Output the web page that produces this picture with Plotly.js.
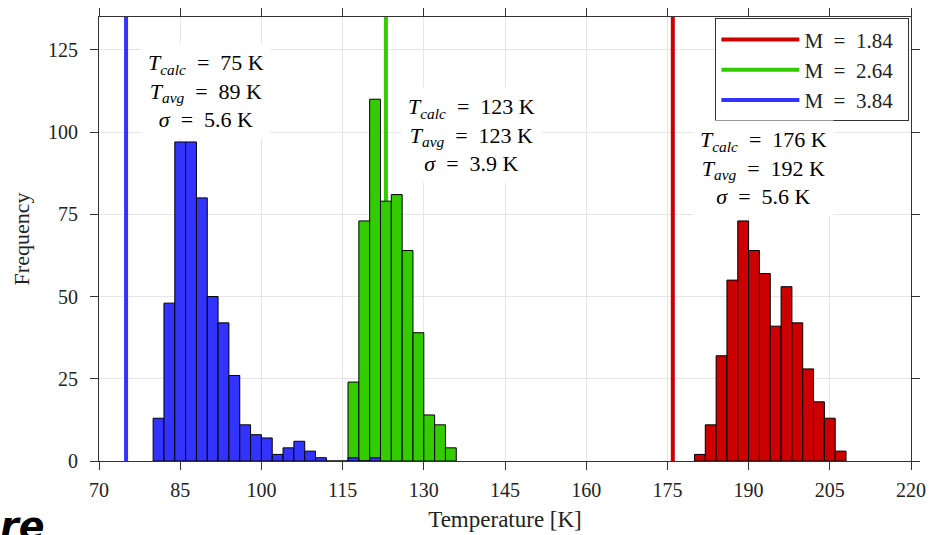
<!DOCTYPE html>
<html>
<head>
<meta charset="utf-8">
<script src="https://cdn.plot.ly/plotly-3.0.1.min.js"></script>
<style>html,body{margin:0;padding:0;background:#fff;}#chart{width:930px;height:535px;}</style>
</head>
<body>
<div id="chart"></div>
<script>
// Histogram data (bin width 2 K)
const binWidth = 2;
const blueStart = 80;
const blueCounts = [13, 48, 97, 97, 80, 50, 42, 26, 11, 8, 7, 2, 4, 6, 3, 1, 0, 0, 1, 0, 1];
const greenStart = 116;
const greenCounts = [24, 73, 110, 79, 81, 64, 39, 14, 11, 4];
const redStart = 180;
const redCounts = [2, 11, 32, 55, 73, 64, 57, 41, 53, 42, 28, 18, 13, 3];

// Calculated temperatures (vertical lines) and legend labels
const seriesNames = ['M = 1.84', 'M = 2.64', 'M = 3.84'];
const tCalc = [176, 123, 75];
const tAvg = [192, 123, 89];
const sigma = [5.6, 3.9, 5.6];
const colors = ['#cc0000', '#33cc00', '#3333ff'];

const xTicks = [70, 85, 100, 115, 130, 145, 160, 175, 190, 205, 220];
const yTicks = [0, 25, 50, 75, 100, 125];

function centers(start, counts) {
  return counts.map((_, i) => start + binWidth * (i + 0.5));
}

const serif = '"Liberation Serif", "Times New Roman", serif';
const sp = '\u2002';

function barTrace(start, counts, color) {
  return {
    type: 'bar', x: centers(start, counts), y: counts, width: binWidth,
    marker: {color: color, line: {color: '#000', width: 1}},
    showlegend: false, hoverinfo: 'skip'
  };
}

const traces = [
  barTrace(redStart, redCounts, colors[0]),
  barTrace(greenStart, greenCounts, colors[1]),
  barTrace(blueStart, blueCounts, colors[2])
];
// legend entries
seriesNames.forEach((n, i) => {
  traces.push({type: 'scatter', mode: 'lines', x: [null], y: [null],
    name: n.replace(' = ', sp + '=' + sp) + sp,
    line: {color: colors[i], width: 4}});
});

const shapes = tCalc.map((t, i) => ({
  type: 'line', xref: 'x', yref: 'y', x0: t, x1: t, y0: 0, y1: 135,
  line: {color: colors[i], width: 4}, layer: 'between'
}));

const annPos = [
  {x: 192.8, y: 89},
  {x: 138.8, y: 99},
  {x: 89.8, y: 112.5}
];
const eq = sp + '=' + sp;
const annotations = tCalc.map((t, i) => ({
  xref: 'x', yref: 'y', x: annPos[i].x, y: annPos[i].y,
  text: '<i>T</i><sub><i>calc</i></sub>' + eq + t + ' K<br><i>T</i><sub><i>avg</i></sub>' + eq + tAvg[i] + ' K<br><i>σ</i>' + eq + sigma[i].toFixed(1) + ' K',
  showarrow: false, align: 'center', bgcolor: '#ffffff', borderpad: 6,
  font: {family: serif, size: 22, color: '#000'}
}));
annotations.push({
  xref: 'paper', yref: 'paper', x: -0.124, y: -0.093, xanchor: 'left', yanchor: 'top',
  text: '<b><i>re</i></b>', showarrow: false,
  font: {family: '"DejaVu Sans", sans-serif', size: 38, color: '#000'}
});

const layout = {
  width: 930, height: 535,
  margin: {l: 99, r: 19, t: 17, b: 74},
  paper_bgcolor: '#fff', plot_bgcolor: '#fff',
  bargap: 0, barmode: 'overlay',
  font: {family: serif, size: 20, color: '#222'},
  xaxis: {
    range: [70, 220], tickvals: xTicks, ticktext: xTicks.map(String),
    showgrid: true, gridcolor: '#e6e6e6', gridwidth: 1, zeroline: false,
    showline: true, linecolor: '#333', linewidth: 1, mirror: 'ticks',
    ticks: 'outside', ticklen: 8, tickcolor: '#333', ticklabelstandoff: 3,
    tickfont: {family: serif, size: 20, color: '#222'},
    title: {text: 'Temperature [K]', font: {family: serif, size: 23, color: '#222'}, standoff: 10}
  },
  yaxis: {
    range: [0, 135], tickvals: yTicks, ticktext: yTicks.map(String),
    showgrid: true, gridcolor: '#e6e6e6', gridwidth: 1, zeroline: false,
    showline: true, linecolor: '#333', linewidth: 1, mirror: 'ticks',
    ticks: 'outside', ticklen: 8, tickcolor: '#333', ticklabelstandoff: 8,
    tickfont: {family: serif, size: 20, color: '#222'},
    title: {text: 'Frequency', font: {family: serif, size: 22, color: '#222'}, standoff: 12}
  },
  legend: {
    x: 0.998, y: 0.997, xanchor: 'right', yanchor: 'top',
    bgcolor: '#fff', bordercolor: '#333', borderwidth: 1,
    font: {family: serif, size: 21, color: '#222'},
    itemwidth: 78, tracegroupgap: 0
  },
  shapes: shapes,
  annotations: annotations
};

Plotly.newPlot('chart', traces, layout, {displayModeBar: false, staticPlot: true});
</script>
</body>
</html>
